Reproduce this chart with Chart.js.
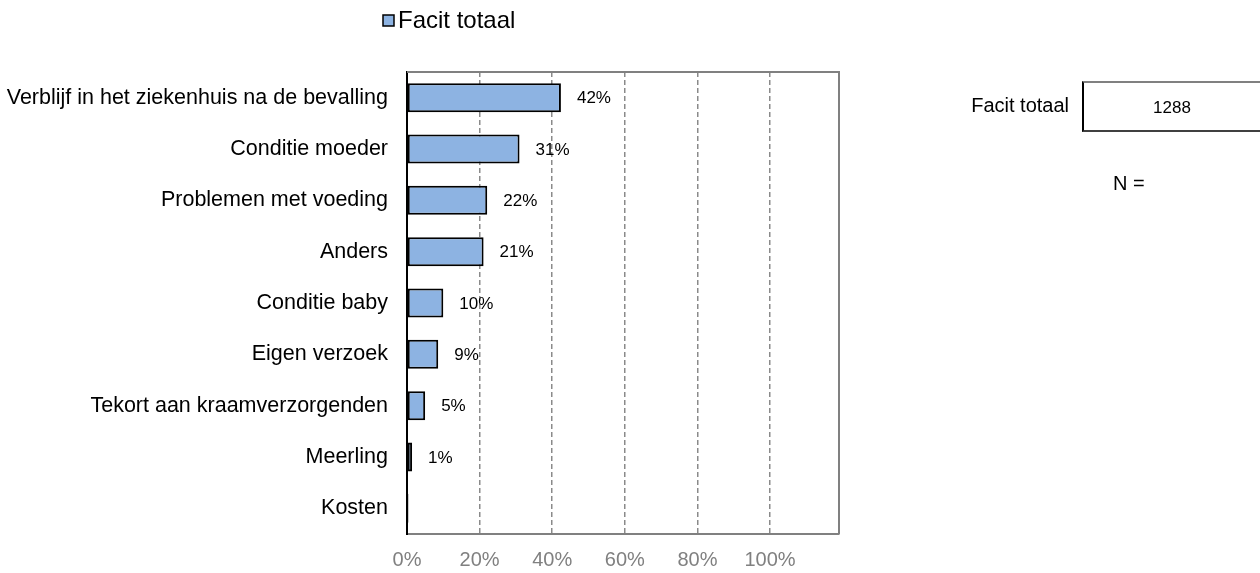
<!DOCTYPE html>
<html lang="nl">
<head>
<meta charset="UTF-8" />
<title>Reden verlenging kraamzorg</title>
<script src="https://cdn.jsdelivr.net/npm/chart.js"></script>
<style>
  body {
    margin: 0;
    background: #ffffff;
    font-family: 'Liberation Sans', Arial, sans-serif;
    color: #000;
  }
  #wrap {
    position: relative;
    width: 1260px;
    height: 573px;
    overflow: hidden;
  }
  .n-label {
    position: absolute;
    right: 191px;
    top: 94px;
    font-size: 20px;
  }
  .n-box {
    position: absolute;
    left: 1082px;
    top: 81px;
    width: 200px;
    height: 51px;
    border-left: 2px solid #000;
    border-top: 2px solid #808080;
    border-bottom: 2px solid #404040;
    box-sizing: border-box;
  }
  .n-box span {
    position: absolute;
    left: 88px;
    transform: translateX(-50%);
    top: 15px;
    font-size: 17px;
  }
  .n-eq {
    position: absolute;
    left: 1113px;
    top: 172px;
    font-size: 20px;
  }
</style>
</head>
<body>
<div id="wrap">
  <canvas id="chart" width="1260" height="573"></canvas>
  <div class="n-label">Facit totaal</div>
  <div class="n-box"><span id="nValue"></span></div>
  <div class="n-eq">N =</div>
</div>

<script>
  const categories = [
    'Verblijf in het ziekenhuis na de bevalling',
    'Conditie moeder',
    'Problemen met voeding',
    'Anders',
    'Conditie baby',
    'Eigen verzoek',
    'Tekort aan kraamverzorgenden',
    'Meerling',
    'Kosten'
  ];
  const seriesName = 'Facit totaal';
  const percentages = [42.4, 31.0, 22.1, 21.1, 10.0, 8.6, 5.0, 1.4, 0.4];
  const xTicks = [0, 20, 40, 60, 80, 100];
  const respondents = 1288;

  document.getElementById('nValue').textContent = respondents;

  const FONT = "'Liberation Sans', Arial, sans-serif";
  const BAR_BLUE = '#8DB3E2';

  // grijze rand boven en rechts van het plotgebied
  const frame = {
    id: 'frame',
    afterDraw(chart) {
      const { ctx, chartArea: a } = chart;
      ctx.save();
      ctx.strokeStyle = '#808080';
      ctx.lineWidth = 2;
      ctx.beginPath();
      ctx.moveTo(a.left, a.top);
      ctx.lineTo(a.right, a.top);
      ctx.lineTo(a.right, a.bottom);
      ctx.stroke();
      ctx.restore();
    }
  };

  // percentages naast de balken
  const valueLabels = {
    id: 'valueLabels',
    afterDatasetsDraw(chart) {
      const { ctx } = chart;
      const meta = chart.getDatasetMeta(0);
      ctx.save();
      ctx.font = '17px ' + FONT;
      ctx.fillStyle = '#000';
      ctx.textAlign = 'left';
      ctx.textBaseline = 'middle';
      meta.data.forEach((bar, i) => {
        const v = chart.data.datasets[0].data[i];
        if (Math.round(v) < 1) return;
        ctx.fillText(Math.round(v) + '%', bar.x + 16, bar.y + 1);
      });
      ctx.restore();
    }
  };

  // eenvoudige legenda linksboven
  const legendBox = {
    id: 'legendBox',
    afterDraw(chart) {
      const { ctx } = chart;
      const ds = chart.data.datasets[0];
      ctx.save();
      ctx.fillStyle = ds.backgroundColor;
      ctx.strokeStyle = '#000';
      ctx.lineWidth = 1.5;
      ctx.fillRect(383, 15, 11, 11);
      ctx.strokeRect(383, 15, 11, 11);
      ctx.font = '24px ' + FONT;
      ctx.fillStyle = '#000';
      ctx.textBaseline = 'middle';
      ctx.fillText(ds.label, 398, 21);
      ctx.restore();
    }
  };

  new Chart(document.getElementById('chart'), {
    type: 'bar',
    data: {
      labels: categories,
      datasets: [{
        label: seriesName,
        data: percentages,
        backgroundColor: BAR_BLUE,
        borderColor: '#000',
        borderWidth: 2,
        borderSkipped: false,
        categoryPercentage: 1,
        barPercentage: 0.565
      }]
    },
    options: {
      indexAxis: 'y',
      responsive: false,
      animation: false,
      layout: { padding: { left: 0, right: 421, top: 72, bottom: 0 } },
      plugins: {
        legend: { display: false },
        tooltip: { enabled: false }
      },
      scales: {
        x: {
          min: 0,
          max: 119,
          afterBuildTicks(scale) {
            scale.ticks = xTicks.map(v => ({ value: v })).concat([{ value: 119 }]);
          },
          afterFit(scale) { scale.height = 39; },
          ticks: {
            callback: v => (v <= 100 ? v + '%' : ''),
            color: '#808080',
            font: { family: FONT, size: 20 },
            padding: 14,
            maxRotation: 0
          },
          grid: {
            drawTicks: false,
            lineWidth: 1.5,
            color: ctx => (ctx.tick && ctx.tick.value > 0 && ctx.tick.value <= 100 ? '#8a8a8a' : 'rgba(0,0,0,0)')
          },
          border: { color: '#808080', width: 2, dash: [5, 3] }
        },
        y: {
          afterFit(scale) { scale.width = 407; },
          ticks: {
            color: '#000',
            font: { family: FONT, size: 21.5 },
            padding: 19
          },
          grid: { display: false, drawTicks: false },
          border: { color: '#000', width: 2 }
        }
      }
    },
    plugins: [frame, valueLabels, legendBox]
  });
</script>
</body>
</html>
